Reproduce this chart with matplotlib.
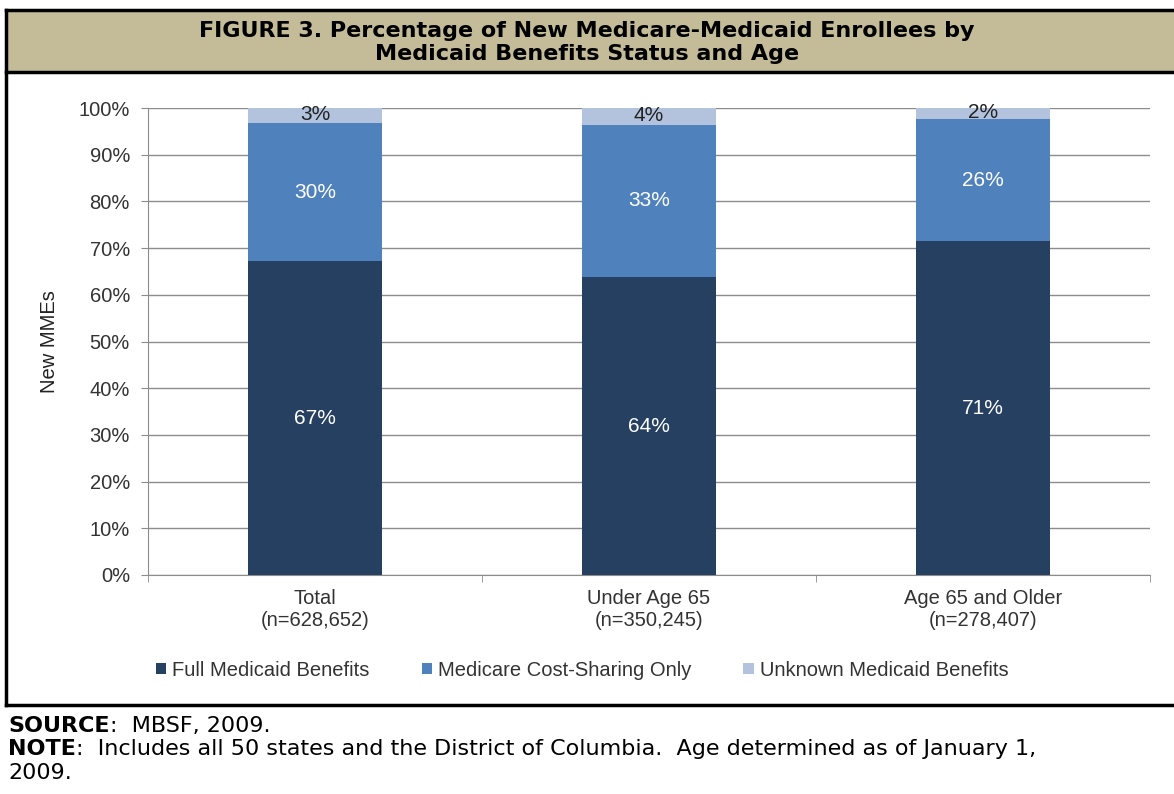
import numpy as np
import matplotlib as mpl
mpl.use('Agg')
import matplotlib.pyplot as plt
from matplotlib.lines import Line2D
from matplotlib.patches import Rectangle

plt.rcParams['font.family'] = ['Liberation Sans', 'DejaVu Sans']

# data
categories = ['Total\n(n=628,652)', 'Under Age 65\n(n=350,245)', 'Age 65 and Older\n(n=278,407)']
full_medicaid = [67.2, 63.8, 71.5]
cost_sharing = [29.6, 32.6, 26.1]
unknown = [3.2, 3.6, 2.4]
full_labels = ['67%', '64%', '71%']
cost_labels = ['30%', '33%', '26%']
unknown_labels = ['3%', '4%', '2%']
series_names = ['Full Medicaid Benefits', 'Medicare Cost-Sharing Only', 'Unknown Medicaid Benefits']
colors = ['#264061', '#4f81bd', '#b3c3de']

W, H = 1174, 794
fig = plt.figure(figsize=(W / 100, H / 100), dpi=100)
fig.patch.set_facecolor('white')

def fx(px):
    return px / W

def fy(py):
    return 1 - py / H

# title band and frame
fig.patches.append(Rectangle((fx(6), fy(72)), 1.0, fy(10) - fy(72), transform=fig.transFigure,
                             facecolor='#c4bc98', edgecolor='none', zorder=0))
frame_kw = dict(transform=fig.transFigure, color='black', lw=2.5)
fig.add_artist(Line2D([fx(6), 1.0], [fy(10), fy(10)], **frame_kw))
fig.add_artist(Line2D([fx(6), 1.0], [fy(72), fy(72)], **frame_kw))
fig.add_artist(Line2D([fx(6), 1.0], [fy(705), fy(705)], **frame_kw))
fig.add_artist(Line2D([fx(6), fx(6)], [fy(10), fy(705)], **frame_kw))

wide = ['DejaVu Sans']
fig.text(0.5, fy(31), 'FIGURE 3. Percentage of New Medicare-Medicaid Enrollees by',
         ha='center', va='center', fontsize=16, fontweight='bold', family=wide)
fig.text(0.5, fy(54), 'Medicaid Benefits Status and Age',
         ha='center', va='center', fontsize=16, fontweight='bold', family=wide)

ax = fig.add_axes([fx(148), fy(575), fx(1150) - fx(148), fy(108) - fy(575)])
x = np.arange(len(categories))
width = 0.4
bottoms = np.zeros(len(categories))
stacks = [(full_medicaid, full_labels, 'white'),
          (cost_sharing, cost_labels, 'white'),
          (unknown, unknown_labels, '#222222')]
for (vals, labs, tc), name, c in zip(stacks, series_names, colors):
    ax.bar(x, vals, width, bottom=bottoms, color=c, label=name, zorder=3)
    for xi, b, v, lab in zip(x, bottoms, vals, labs):
        ax.text(xi, b + v / 2 + (0.3 if v < 5 else 0), lab,
                ha='center', va='center', color=tc, fontsize=15, zorder=4)
    bottoms = bottoms + np.array(vals)

ax.set_xlim(-0.5, 2.5)
ax.set_ylim(0, 100)
ax.set_yticks(np.arange(0, 101, 10))
ax.set_yticklabels([f'{v}%' for v in range(0, 101, 10)])
ax.set_xticks(x)
ax.set_xticklabels(categories)
ax.set_xticks([-0.5, 0.5, 1.5, 2.5], minor=True)
ax.tick_params(axis='x', which='major', length=0, pad=10, labelsize=14.5, colors='#333333')
ax.tick_params(axis='x', which='minor', length=5, color='#8c8c8c')
ax.tick_params(axis='y', length=5, color='#8c8c8c', labelsize=14.5, labelcolor='#333333', pad=8)
ax.yaxis.grid(True, color='#8c8c8c', lw=1, zorder=0)
ax.set_axisbelow(True)
for s in ['top', 'right']:
    ax.spines[s].set_visible(False)
for s in ['left', 'bottom']:
    ax.spines[s].set_color('#8c8c8c')
ax.set_ylabel('New MMEs', fontsize=14.5, color='#222222', labelpad=14)

handles, labels = ax.get_legend_handles_labels()
fig.legend(handles, labels, loc='center', bbox_to_anchor=(fx(582), fy(670)), ncol=3,
           frameon=False, fontsize=14.5, handlelength=0.5, handleheight=0.5,
           handletextpad=0.3, columnspacing=2.6, labelcolor='#333333')

# footer: bold lead word then plain text
renderer = fig.canvas.get_renderer()
foot = [('SOURCE', ':  MBSF, 2009.', 726),
        ('NOTE', ':  Includes all 50 states and the District of Columbia.  Age determined as of January 1,', 749)]
for lead, rest, py in foot:
    t = fig.text(fx(8), fy(py), lead, ha='left', va='center', fontsize=16,
                 fontweight='bold', family=wide)
    bb = t.get_window_extent(renderer)
    fig.text(bb.x1 / W, fy(py), rest, ha='left', va='center', fontsize=16, family=wide)
fig.text(fx(8), fy(773), '2009.', ha='left', va='center', fontsize=16, family=wide)

fig.savefig('out.png', dpi=100)
